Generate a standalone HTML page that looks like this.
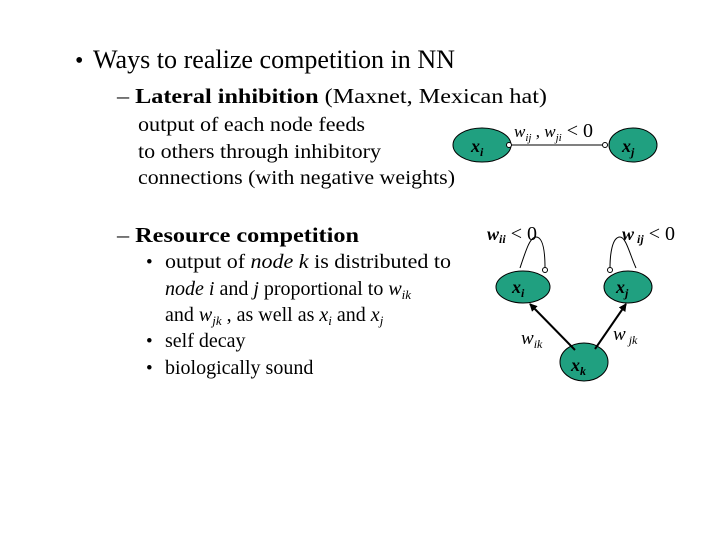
<!DOCTYPE html>
<html><head><meta charset="utf-8"><style>
html,body{margin:0;padding:0;background:#fff;}
svg{display:block;font-family:"Liberation Serif",serif;}
</style></head><body>
<svg width="720" height="540" viewBox="0 0 720 540" xmlns="http://www.w3.org/2000/svg">
<defs><marker id="ah" markerWidth="8" markerHeight="8" refX="7" refY="4" orient="auto" markerUnits="userSpaceOnUse"><path d="M0,0 L8,4 L0,8 z" fill="#000"/></marker></defs>
<g fill="#000">
<text x="75" y="68" font-size="24">•</text>
<text x="93" y="68" font-size="26" textLength="362" lengthAdjust="spacingAndGlyphs">Ways to realize competition in NN</text>
<text x="117" y="103" font-size="21" textLength="430" lengthAdjust="spacingAndGlyphs">– <tspan font-weight="bold">Lateral inhibition</tspan> (Maxnet, Mexican hat)</text>
<text x="138" y="131" font-size="20" textLength="227" lengthAdjust="spacingAndGlyphs">output of each node feeds</text>
<text x="138" y="158" font-size="20" textLength="243" lengthAdjust="spacingAndGlyphs">to others through inhibitory</text>
<text x="138" y="184" font-size="20" textLength="317" lengthAdjust="spacingAndGlyphs">connections (with negative weights)</text>
<text x="117" y="242" font-size="21" textLength="242" lengthAdjust="spacingAndGlyphs">– <tspan font-weight="bold">Resource competition</tspan></text>
<text x="146" y="268" font-size="19">•</text>
<text x="165" y="268" font-size="20" textLength="286" lengthAdjust="spacingAndGlyphs">output of <tspan font-style="italic">node k</tspan> is distributed to</text>
<text x="165" y="295" font-size="20"><tspan font-style="italic">node i</tspan> and <tspan font-style="italic">j</tspan> proportional to <tspan font-style="italic">w</tspan><tspan font-style="italic" font-size="13" dy="4">ik</tspan></text>
<text x="165" y="321" font-size="20"><tspan>and </tspan><tspan font-style="italic">w</tspan><tspan font-style="italic" font-size="13" dy="4">jk</tspan><tspan dy="-4"> , as well as </tspan><tspan font-style="italic">x</tspan><tspan font-style="italic" font-size="13" dy="4">i</tspan><tspan dy="-4"> and </tspan><tspan font-style="italic">x</tspan><tspan font-style="italic" font-size="13" dy="4">j</tspan></text>
<text x="146" y="347" font-size="19">•</text>
<text x="165" y="347" font-size="20">self decay</text>
<text x="146" y="374" font-size="19">•</text>
<text x="165" y="374" font-size="20">biologically sound</text>
</g>
<g stroke="#000" stroke-width="1" fill="#20a080">
<ellipse cx="482" cy="145" rx="29" ry="17"/>
<ellipse cx="633" cy="145" rx="24" ry="17"/>
<ellipse cx="523" cy="287" rx="27" ry="16"/>
<ellipse cx="628" cy="287" rx="24" ry="16"/>
<ellipse cx="584" cy="362" rx="24" ry="19"/>
</g>
<g stroke="#000" fill="none" stroke-width="1">
<line x1="511" y1="145" x2="602" y2="145"/>
<path d="M520,268 C526,250 530,237 536,237 C544,237 545,255 545,268"/>
<path d="M610,268 C610,255 612,237 620,237 C626,237 630,255 636,268"/>
</g>
<g stroke="#000" fill="#fff" stroke-width="1">
<circle cx="509" cy="145" r="2.5"/>
<circle cx="605" cy="145" r="2.5"/>
<circle cx="545" cy="270" r="2.5"/>
<circle cx="610" cy="270" r="2.5"/>
</g>
<g stroke="#000" stroke-width="2">
<line x1="575" y1="350" x2="530" y2="304" marker-end="url(#ah)"/>
<line x1="595" y1="349" x2="626" y2="304" marker-end="url(#ah)"/>
</g>
<g fill="#000" font-style="italic">
<text x="471" y="152" font-size="18" font-weight="bold">x<tspan font-size="12" dy="4">i</tspan></text>
<text x="622" y="152" font-size="18" font-weight="bold">x<tspan font-size="12" dy="4">j</tspan></text>
<text x="512" y="293" font-size="18" font-weight="bold">x<tspan font-size="12" dy="4">i</tspan></text>
<text x="616" y="293" font-size="18" font-weight="bold">x<tspan font-size="12" dy="4">j</tspan></text>
<text x="571" y="371" font-size="18" font-weight="bold">x<tspan font-size="12" dy="4">k</tspan></text>
<text x="514" y="137" font-size="17">w<tspan font-size="11" dy="4">ij</tspan><tspan dy="-4" font-style="normal"> , </tspan>w<tspan font-size="11" dy="4">ji</tspan><tspan dy="-4" font-style="normal" font-size="20"> &lt; 0</tspan></text>
<text x="487" y="240" font-size="18" font-weight="bold">w<tspan font-size="12" dy="3">ii</tspan><tspan dy="-3" font-style="normal" font-weight="normal" font-size="20"> &lt; 0</tspan></text>
<text x="622" y="240" font-size="18" font-weight="bold">w<tspan font-size="12" dy="3"> ij</tspan><tspan dy="-3" font-style="normal" font-weight="normal" font-size="20">  &lt; 0</tspan></text>
<text x="521" y="344" font-size="19">w<tspan font-size="12" dy="4">ik</tspan></text>
<text x="613" y="340" font-size="19">w<tspan font-size="12" dy="4"> jk</tspan></text>
</g>
</svg>
</body></html>
